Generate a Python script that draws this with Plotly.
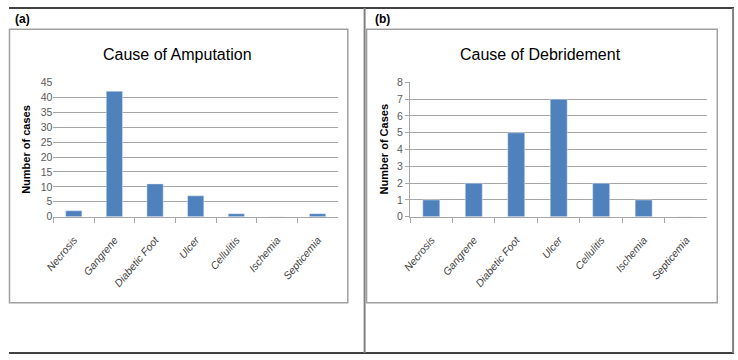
import plotly.graph_objects as go

W, H = 738, 360

categories = ["Necrosis", "Gangrene", "Diabetic Foot", "Ulcer", "Cellulitis", "Ischemia", "Septicemia"]
amputation = [2, 42, 11, 7, 1, 0, 1]
debridement = [1, 2, 5, 7, 2, 1, 0]
amp_ticks = [0, 5, 10, 15, 20, 25, 30, 35, 40, 45]
deb_ticks = [0, 1, 2, 3, 4, 5, 6, 7, 8]

BAR = "#4F81BD"
GRID = "#a6a6a6"
BOX = "#a0a0a0"
SANS = "Liberation Sans, Arial, sans-serif"

def px(x):
    return x / W

def py(y):
    return 1 - y / H

fig = go.Figure()
fig.add_trace(go.Bar(x=categories, y=amputation, marker_color=BAR, xaxis="x", yaxis="y",
                     hoverinfo="x+y"))
fig.add_trace(go.Bar(x=categories, y=debridement, marker_color=BAR, xaxis="x2", yaxis="y2",
                     hoverinfo="x+y"))

xcommon = dict(type="category", tickangle=-50, showline=True, linecolor=GRID, linewidth=1,
               ticks="outside", ticklen=5, tickcolor=GRID, tickson="boundaries",
               ticklabelstandoff=12,
               tickfont=dict(family=SANS, size=10.5, color="#404040", style="italic"),
               showgrid=False, fixedrange=True)
ycommon = dict(showgrid=True, gridcolor=GRID, gridwidth=1, zeroline=False,
               tickfont=dict(family=SANS, size=10.5, color="#5a5a5a"), fixedrange=True)

fig.update_layout(
    width=W, height=H, margin=dict(l=0, r=0, t=0, b=0),
    paper_bgcolor="white", plot_bgcolor="white", showlegend=False, bargap=0.6,
    xaxis=dict(domain=[px(45), px(333)], anchor="y", **xcommon),
    yaxis=dict(domain=[py(218), py(79)], anchor="x", range=[0, 45], tickvals=amp_ticks,
               showline=False, ticks="", **ycommon),
    xaxis2=dict(domain=[px(406), px(707)], anchor="y2", **xcommon),
    yaxis2=dict(domain=[py(218), py(79)], anchor="x2", range=[0, 8], tickvals=deb_ticks,
                showline=True, linecolor=GRID, ticks="outside", ticklen=4, tickcolor=GRID, **ycommon),
)

P = dict(xref="paper", yref="paper")
shapes = [
    # outer frame
    dict(type="line", x0=px(0), x1=px(734), y0=py(2), y1=py(2), line=dict(color="#404040", width=2), **P),
    dict(type="line", x0=px(0), x1=px(734), y0=py(359), y1=py(359), line=dict(color="#404040", width=2), **P),
    dict(type="line", x0=px(733), x1=px(733), y0=py(2), y1=py(359), line=dict(color="#808080", width=2), **P),
    dict(type="line", x0=px(360), x1=px(360), y0=py(2), y1=py(359), line=dict(color="#808080", width=2), **P),
    # chart boxes
    dict(type="rect", x0=px(0.5), x1=px(343), y0=py(24), y1=py(307), line=dict(color=BOX, width=1.5), **P),
    dict(type="rect", x0=px(362), x1=px(717), y0=py(24), y1=py(307), line=dict(color=BOX, width=1.5), **P),
]

annotations = [
    dict(text="<b>(a)</b>", x=px(4), y=py(13), xanchor="left", yanchor="middle",
         showarrow=False, font=dict(family=SANS, size=12, color="black"), **P),
    dict(text="<b>(b)</b>", x=px(368), y=py(13), xanchor="left", yanchor="middle",
         showarrow=False, font=dict(family=SANS, size=12, color="black"), **P),
    dict(text="Cause of Amputation", x=px(171), y=py(50), xanchor="center",
         yanchor="middle", showarrow=False, font=dict(family=SANS, size=16, color="black"), **P),
    dict(text="Cause of Debridement", x=px(538), y=py(50), xanchor="center",
         yanchor="middle", showarrow=False, font=dict(family=SANS, size=16, color="black"), **P),
    dict(text="<b>Number of cases</b>", x=px(17), y=py(148), xanchor="center",
         yanchor="middle", textangle=-90, showarrow=False,
         font=dict(family=SANS, size=11, color="black"), **P),
    dict(text="<b>Number of Cases</b>", x=px(380), y=py(148), xanchor="center",
         yanchor="middle", textangle=-90, showarrow=False,
         font=dict(family=SANS, size=11, color="black"), **P),
]

fig.update_layout(shapes=shapes, annotations=annotations)
fig.write_html("out.html")
